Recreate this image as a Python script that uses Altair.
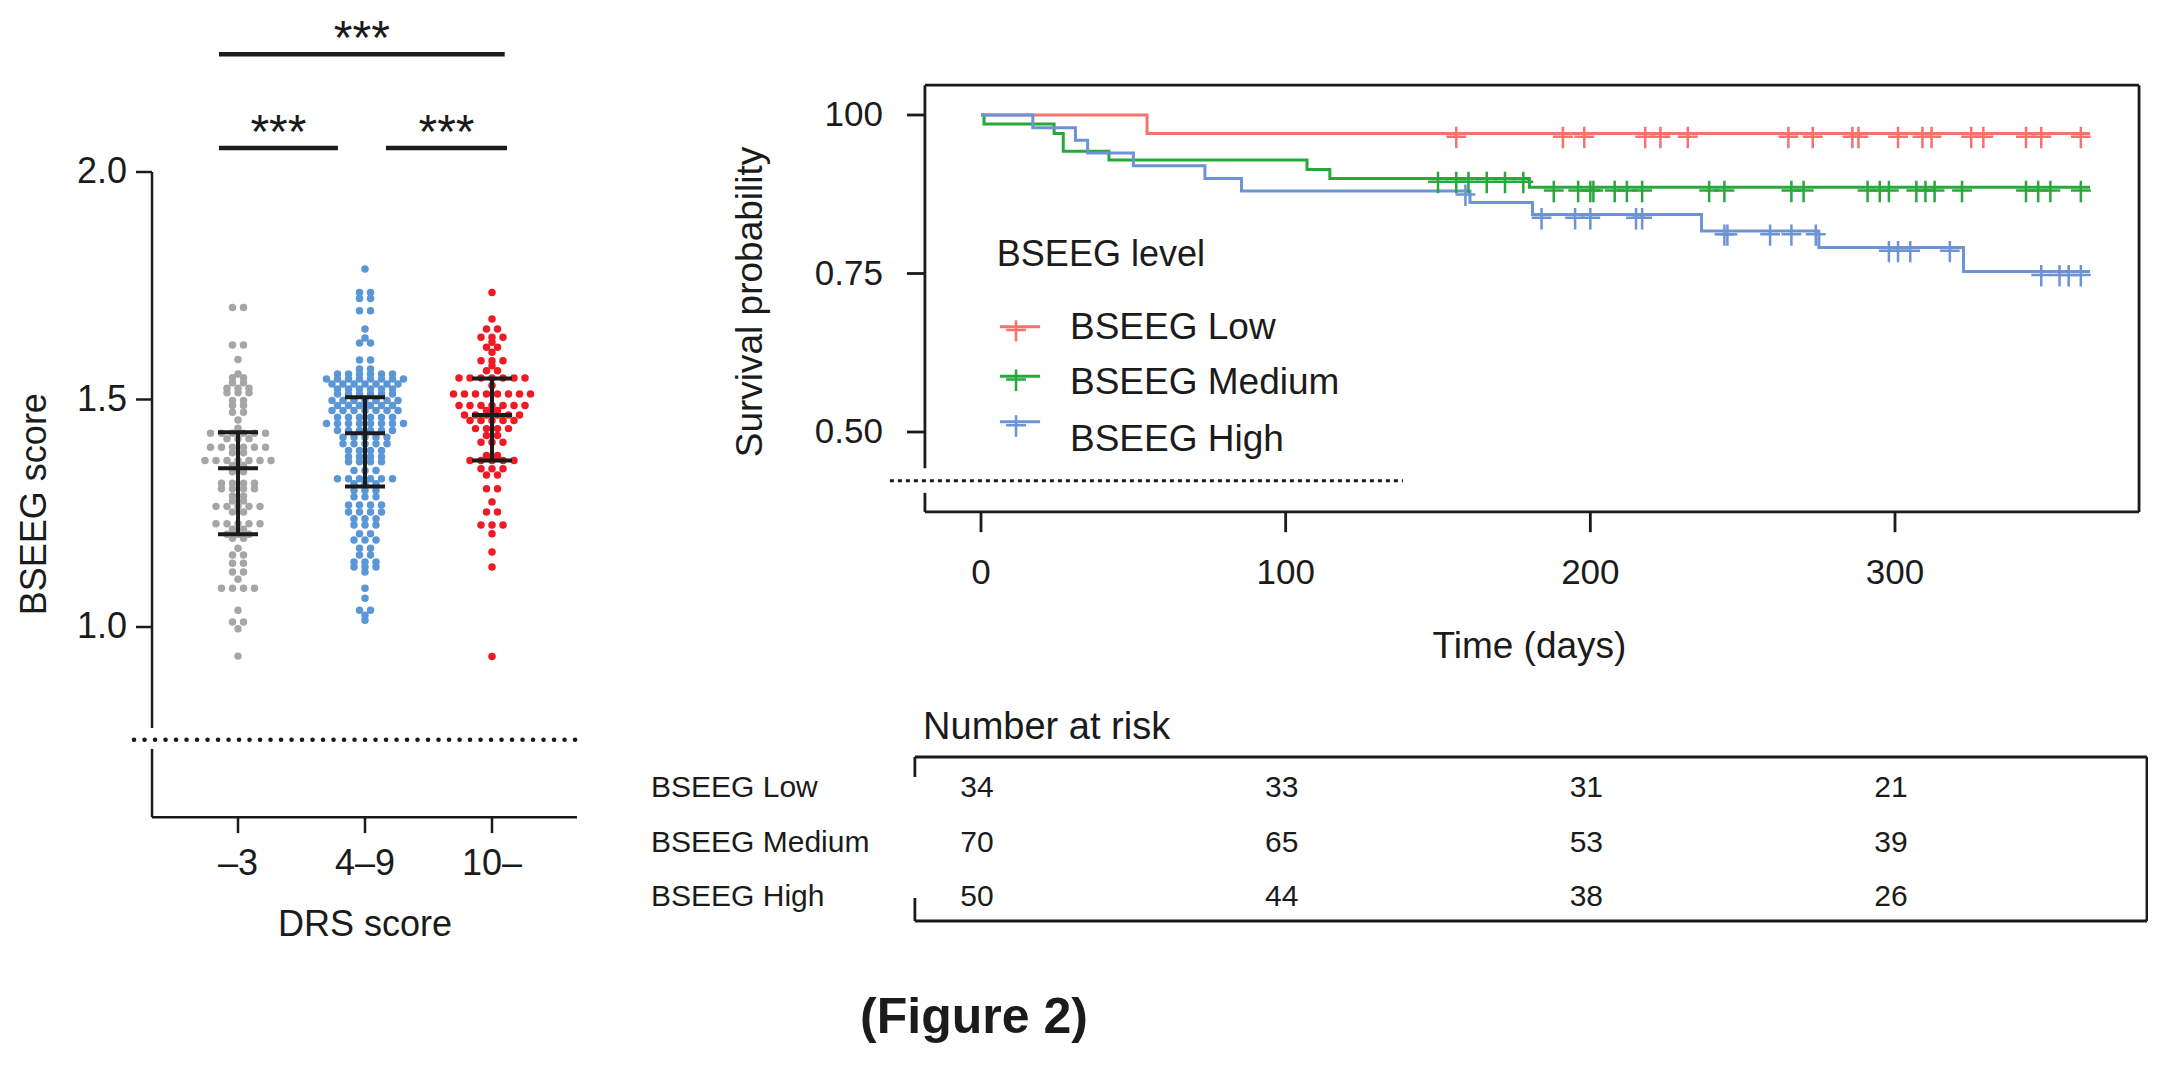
import altair as alt
import pandas as pd

FONT = "Liberation Sans"
INK = "#1b1b1b"
W, H, M = 2140, 1045, 8  # canvas size, page margin

# ---------------- left panel data ----------------
drs_groups = ["\u20133", "4\u20139", "10\u2013"]
dot_colors = ["#a6a6a6", "#5b96d6", "#ee1b24"]

gray_levels = [1.702, 1.620, 1.588, 1.556, 1.548, 1.537, 1.525, 1.515, 1.498, 1.487,
               1.472, 1.455, 1.437, 1.426, 1.414, 1.395, 1.383, 1.366, 1.355, 1.341,
               1.316, 1.304, 1.288, 1.277, 1.265, 1.253, 1.227, 1.215, 1.204, 1.195,
               1.173, 1.158, 1.140, 1.121, 1.105, 1.085, 1.037, 1.011, 0.996, 0.936]
gray_counts = [2, 2, 1, 1, 2, 2, 3, 3, 2, 2,
               2, 1, 1, 6, 3, 6, 2, 7, 2, 2,
               4, 4, 2, 2, 5, 2, 5, 2, 3, 2,
               1, 2, 2, 2, 1, 4, 1, 2, 1, 1]

blue_levels = [1.787, 1.735, 1.722, 1.695, 1.655, 1.635, 1.624, 1.587, 1.567, 1.556,
               1.545, 1.534, 1.523, 1.512, 1.498, 1.487, 1.476, 1.461, 1.447, 1.432,
               1.417, 1.403, 1.388, 1.374, 1.363, 1.344, 1.326, 1.315, 1.300, 1.286,
               1.268, 1.253, 1.238, 1.224, 1.205, 1.191, 1.173, 1.158, 1.143, 1.132,
               1.121, 1.085, 1.063, 1.037, 1.026, 1.015]
blue_counts = [1, 2, 2, 2, 1, 1, 2, 2, 2, 6,
               8, 7, 6, 6, 7, 6, 7, 6, 8, 6,
               5, 5, 4, 4, 4, 3, 6, 3, 3, 3,
               4, 4, 3, 3, 2, 3, 2, 2, 3, 3,
               1, 1, 1, 2, 1, 1]

red_levels = [1.735, 1.677, 1.655, 1.637, 1.626, 1.615, 1.604, 1.585, 1.574, 1.563,
              1.547, 1.531, 1.512, 1.487, 1.476, 1.466, 1.454, 1.436, 1.421, 1.406,
              1.377, 1.366, 1.348, 1.334, 1.304, 1.275, 1.253, 1.224, 1.205, 1.165,
              1.132, 0.935]
red_counts = [1, 1, 2, 3, 1, 2, 1, 3, 1, 2,
              7, 1, 8, 7, 2, 6, 5, 4, 2, 3,
              2, 5, 3, 2, 2, 1, 2, 3, 1, 1,
              1, 1]

medians = [1.349, 1.426, 1.466]
q1s = [1.204, 1.309, 1.366]
q3s = [1.428, 1.505, 1.546]

sig_labels = ["***", "***", "***"]

# ---------------- Kaplan-Meier data ----------------
km_levels = ["BSEEG Low", "BSEEG Medium", "BSEEG High"]
km_colors = ["#f4736b", "#27a83a", "#6b93d5"]

low_t = [0, 54.5, 364]
low_s = [1.0, 0.971, 0.971]
med_t = [0, 1, 24, 27, 42, 107, 114.5, 180, 364]
med_s = [1.0, 0.986, 0.971, 0.943, 0.929, 0.914, 0.900, 0.886, 0.886]
high_t = [0, 17, 31, 35, 50, 73.5, 85.5, 160.5, 181, 236.5, 275, 322.5, 364]
high_s = [1.0, 0.98, 0.96, 0.94, 0.92, 0.90, 0.88, 0.862, 0.843, 0.817, 0.791, 0.753, 0.753]

low_cens = [156, 191, 198, 218, 223, 232, 265, 273, 286, 288, 301, 309, 312, 325, 329, 343, 348, 361]
med_cens = [150, 156, 160, 166, 172, 178, 188, 196, 200, 201, 208, 212, 217, 239, 244, 266,
            270, 291, 295, 298, 307, 310, 313, 322, 343, 347, 351, 361]
high_cens = [159, 184, 195, 200, 215, 217, 244, 245, 259, 266, 274, 298, 301, 305, 318, 348,
             354, 357, 361]

risk_days = [0, 100, 200, 300]
risk_low = [34, 33, 31, 21]
risk_med = [70, 65, 53, 39]
risk_high = [50, 44, 38, 26]

# ---------------- scales: one canvas, each panel maps its own data units ----------------
def xdom(v1, p1, v2, p2):
    c1, c2 = p1 - M, p2 - M
    b = (c2 - c1) / (v2 - v1)
    return [v1 - c1 / b, v1 + (W - c1) / b]


def ydom(v1, p1, v2, p2):
    c1, c2 = p1 - M, p2 - M
    b = (c2 - c1) / (v2 - v1)
    return [v1 + (H - c1) / b, v1 + (0 - c1) / b]


def sc(dom):
    return alt.Scale(domain=dom, nice=False, zero=False)


XL = sc(xdom(1, 238, 3, 492))
YL = sc(ydom(1.0, 627, 2.0, 172))
XR = sc(xdom(0, 981, 300, 1895))
YR = sc(ydom(0.5, 432, 1.0, 115))
YT = sc(ydom(0, 788, 2, 897))


def seg_layer(rows, xs, ys, color=INK, width=2.5, dash=None, cap="butt"):
    df = pd.DataFrame(rows, columns=["x1", "x2", "y1", "y2"])
    kw = dict(color=color, strokeWidth=width, strokeCap=cap)
    if dash:
        kw["strokeDash"] = dash
    return alt.Chart(df).mark_rule(**kw).encode(
        x=alt.X("x1:Q", scale=xs, axis=None), x2="x2:Q",
        y=alt.Y("y1:Q", scale=ys, axis=None), y2="y2:Q")


def text_layer(rows, xs, ys, size, **kw):
    df = pd.DataFrame(rows, columns=["x", "y", "t"])
    base = dict(font=FONT, fontSize=size, color=INK, baseline="middle")
    base.update(kw)
    return alt.Chart(df).mark_text(**base).encode(
        x=alt.X("x:Q", scale=xs, axis=None),
        y=alt.Y("y:Q", scale=ys, axis=None),
        text="t:N")


layers = []

# ---------------- left panel ----------------
dot_rows = []
for g, (lv, ct) in enumerate([(gray_levels, gray_counts), (blue_levels, blue_counts),
                              (red_levels, red_counts)]):
    for v, c in zip(lv, ct):
        for _ in range(c):
            dot_rows.append({"grp": g + 1, "score": v})
dots_df = pd.DataFrame(dot_rows)
SP = 11 / 127
dots = alt.Chart(dots_df).transform_window(
    idx="row_number()", groupby=["grp", "score"]
).transform_joinaggregate(
    n="count()", groupby=["grp", "score"]
).transform_calculate(
    xpos=f"datum.grp + (datum.idx - (datum.n + 1) / 2) * {SP}"
).mark_circle(size=56, opacity=1).encode(
    x=alt.X("xpos:Q", scale=XL, axis=None),
    y=alt.Y("score:Q", scale=YL, axis=None),
    color=alt.Color("grp:N", scale=alt.Scale(domain=[1, 2, 3], range=dot_colors), legend=None),
)
layers.append(dots)

err_df = pd.DataFrame({"grp": [1, 2, 3], "med": medians, "q1": q1s, "q3": q3s})
layers.append(alt.Chart(err_df).mark_rule(strokeWidth=4, color=INK).encode(
    x=alt.X("grp:Q", scale=XL, axis=None),
    y=alt.Y("q1:Q", scale=YL, axis=None), y2="q3:Q"))
layers.append(alt.Chart(err_df).transform_fold(["med", "q1", "q3"], as_=["stat", "val"]).mark_tick(
    orient="horizontal", size=40, thickness=4, color=INK, opacity=1).encode(
    x=alt.X("grp:Q", scale=XL, axis=None),
    y=alt.Y("val:Q", scale=YL, axis=None)))

# significance brackets
bar_x1 = [0.85, 0.85, 2.165]
bar_x2 = [3.10, 1.787, 3.118]
bar_y = [2.259, 2.053, 2.053]
layers.append(seg_layer([(a, b, y, y) for a, b, y in zip(bar_x1, bar_x2, bar_y)], XL, YL, width=4.5))
layers.append(text_layer([((a + b) / 2, y, s) for a, b, y, s in zip(bar_x1, bar_x2, bar_y, sig_labels)],
                         XL, YL, 48, baseline="alphabetic", dy=0))

# axes with break
ax_x = 0.323
left_axes = [(ax_x, ax_x, 2.0, 0.778), (ax_x, ax_x, 0.732, 0.582), (ax_x, 3.669, 0.582, 0.582)]
left_axes += [(0.197, ax_x, v, v) for v in (1.0, 1.5, 2.0)]
left_axes += [(g, g, 0.582, 0.547) for g in (1, 2, 3)]
layers.append(seg_layer(left_axes, XL, YL, width=2.5))
layers.append(seg_layer([(0.181, 3.732, 0.752, 0.752)], XL, YL, width=4.5, dash=[0.1, 10.4], cap="round"))
layers.append(text_layer([(0.126, v, f"{v:.1f}") for v in (1.0, 1.5, 2.0)], XL, YL, 36, align="right"))
layers.append(text_layer([(g + 1, 0.479, lab) for g, lab in enumerate(drs_groups)], XL, YL, 36, align="center"))
layers.append(text_layer([(2, 0.345, "DRS score")], XL, YL, 36, align="center"))
layers.append(text_layer([(-0.598, 1.27, "BSEEG score")], XL, YL, 36, align="center", angle=270))

# ---------------- Kaplan-Meier panel ----------------
def step_value(ts, ss, t):
    val = ss[0]
    for tt, s in zip(ts, ss):
        if tt <= t:
            val = s
    return val


km_rows, cens_rows = [], []
for lev, ts, ss, cs in zip(km_levels, [low_t, med_t, high_t], [low_s, med_s, high_s],
                           [low_cens, med_cens, high_cens]):
    for t, s in zip(ts, ss):
        km_rows.append({"level": lev, "day": t, "surv": s})
    for c in cs:
        cens_rows.append({"level": lev, "day": c, "surv": step_value(ts, ss, c)})
km_df = pd.DataFrame(km_rows)
cens_df = pd.DataFrame(cens_rows)
CS = alt.Scale(domain=km_levels, range=km_colors)
PLUS = "M0,-0.6L0,1.35M-0.9,0.3L0.9,0.3"

layers.append(alt.Chart(km_df).mark_line(interpolate="step-after", strokeWidth=3).encode(
    x=alt.X("day:Q", scale=XR, axis=None),
    y=alt.Y("surv:Q", scale=YR, axis=None),
    color=alt.Color("level:N", scale=CS, legend=None),
    order="day:Q"))
layers.append(alt.Chart(cens_df).mark_point(shape=PLUS, size=484, filled=False, strokeWidth=2.5, opacity=1).encode(
    x=alt.X("day:Q", scale=XR, axis=None),
    y=alt.Y("surv:Q", scale=YR, axis=None),
    color=alt.Color("level:N", scale=CS, legend=None)))

# frame and axes
xl, xr, yt, yb = -18.4, 380.1, 1.047, 0.374
km_frame = [(xl, xr, yt, yt), (xr, xr, yt, yb), (xl, xr, yb, yb),
            (xl, xl, yt, 0.443), (xl, xl, 0.404, yb)]
km_frame += [(-24.3, xl, v, v) for v in (1.0, 0.75, 0.5)]
km_frame += [(d, d, yb, 0.342) for d in risk_days]
layers.append(seg_layer(km_frame, XR, YR, width=2.8))
layers.append(seg_layer([(-29.9, 138.5, 0.423, 0.423)], XR, YR, width=3, dash=[4, 4]))
layers.append(text_layer([(-32.2, v, t) for v, t in zip((1.0, 0.75, 0.5), ("100", "0.75", "0.50"))],
                         XR, YR, 35, align="right"))
layers.append(text_layer([(d, 0.278, str(d)) for d in risk_days], XR, YR, 35, align="center"))
layers.append(text_layer([(180, 0.161, "Time (days)")], XR, YR, 37, align="center"))
layers.append(text_layer([(-75.5, 0.705, "Survival probability")], XR, YR, 37, align="center", angle=270))

# legend
leg_sym_y = [0.666, 0.588, 0.516]
leg_txt_y = [0.664, 0.577, 0.487]
leg_df = pd.DataFrame({"level": km_levels, "y": leg_sym_y, "xa": [6.2] * 3, "xb": [19.4] * 3, "xm": [11.5] * 3})
layers.append(alt.Chart(leg_df).mark_rule(strokeWidth=3).encode(
    x=alt.X("xa:Q", scale=XR, axis=None), x2="xb:Q",
    y=alt.Y("y:Q", scale=YR, axis=None),
    color=alt.Color("level:N", scale=CS, legend=None)))
layers.append(alt.Chart(leg_df).mark_point(shape=PLUS, size=484, filled=False, strokeWidth=2.5, opacity=1).encode(
    x=alt.X("xm:Q", scale=XR, axis=None),
    y=alt.Y("y:Q", scale=YR, axis=None),
    color=alt.Color("level:N", scale=CS, legend=None)))
layers.append(text_layer([(5.2, 0.779, "BSEEG level")], XR, YR, 36, align="left"))
layers.append(text_layer([(29.2, y, lev) for y, lev in zip(leg_txt_y, km_levels)], XR, YR, 37, align="left"))

# ---------------- number at risk table ----------------
tl, tr, tt, tb = -21.7, 382.7, -0.569, 2.44
tab_frame = [(tl, tr, tt, tt), (tl, tr, tb, tb), (tr, tr, tt, tb),
             (tl, tl, tt, -0.202), (tl, tl, 2.018, tb)]
layers.append(seg_layer(tab_frame, XR, YT, width=2.8))
layers.append(text_layer([(-19.0, -1.1, "Number at risk")], XR, YT, 38, align="left"))
layers.append(text_layer([(-108.3, i, lev) for i, lev in enumerate(km_levels)], XR, YT, 30, align="left"))
risk_rows = []
for i, vals in enumerate([risk_low, risk_med, risk_high]):
    for d, v in zip(risk_days, vals):
        risk_rows.append((d, i, str(v)))
layers.append(text_layer(risk_rows, XR, YT, 30, align="center", dx=-4))

# caption
layers.append(text_layer([(-2.3, 4.22, "(Figure 2)")], XR, YT, 50, align="center", fontWeight="bold"))

chart = alt.layer(*layers).resolve_scale(
    x="independent", y="independent", color="independent"
).properties(
    width=W, height=H, autosize="none", padding=0
).configure(background="white").configure_view(stroke=None)

chart.save("out.html", embed_options={"renderer": "svg", "actions": False})
